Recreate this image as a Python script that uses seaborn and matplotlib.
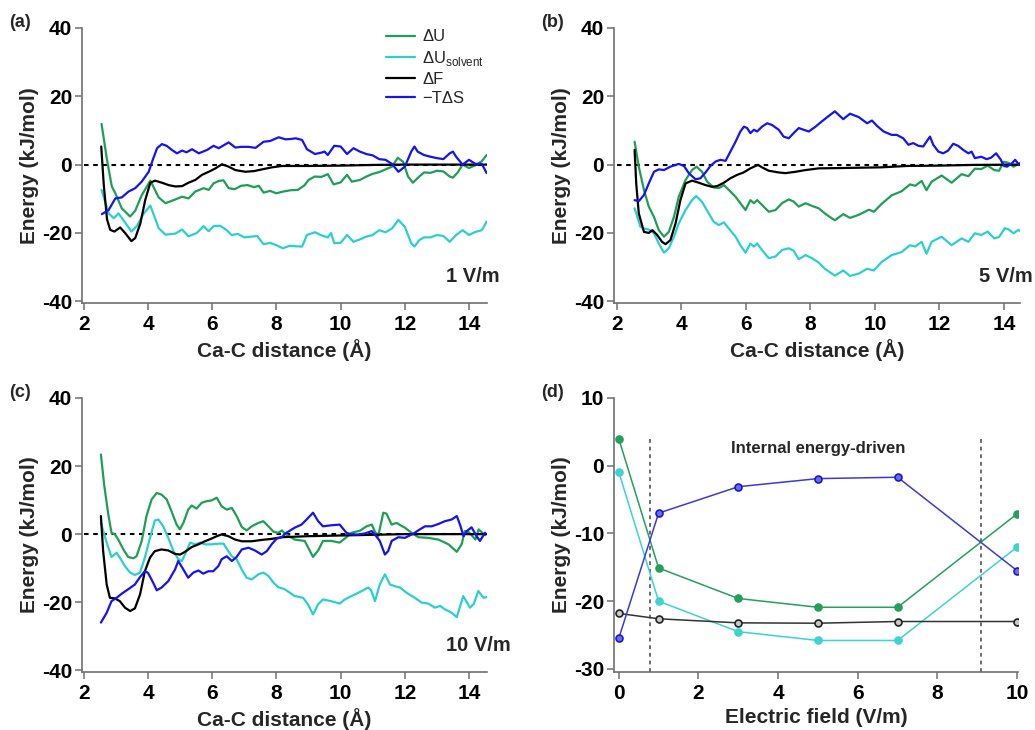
import numpy as np
import pandas as pd
import seaborn as sns
import matplotlib.pyplot as plt

sns.set_style("ticks")
plt.rcParams['font.family'] = ['Liberation Sans', 'DejaVu Sans']
plt.rcParams['mathtext.fontset'] = 'custom'
plt.rcParams['mathtext.rm'] = 'Liberation Sans'
plt.rcParams['axes.unicode_minus'] = False

GREEN = '#1f9e55'
CYAN = '#2ccfcf'
BLUE = '#1414f0'
BLACK = '#000000'
SPINE = '#707070'

# ---------------- panel (a) 1 V/m ----------------
a_du_x = [2.55, 2.72, 2.87, 2.98, 3.18, 3.44, 3.6, 3.8, 4.07, 4.33, 4.54, 4.85, 5.06, 5.26, 5.47, 5.73,
          5.89, 6.04, 6.2, 6.35, 6.51, 6.7, 6.9, 7.1, 7.3, 7.45, 7.6, 7.8, 8.0, 8.2, 8.45, 8.67, 8.88,
          9.0, 9.19, 9.4, 9.6, 9.78, 10.0, 10.2, 10.35, 10.6, 10.8, 11.0, 11.2, 11.4, 11.6, 11.78,
          11.95, 12.1, 12.25, 12.45, 12.6, 12.8, 13.0, 13.2, 13.4, 13.5, 13.65, 13.8, 14.0, 14.2,
          14.4, 14.55]
a_du = [11.9, 1.4, -6.4, -8.4, -12.8, -15.2, -13.5, -9, -4.7, -9.6, -11.3, -10.2, -9.4, -9.9, -7.9, -6.9,
        -7.4, -5.5, -4.8, -4.6, -6.9, -7.2, -6.2, -6.0, -6.6, -6.2, -8.2, -7.7, -8.4, -7.9, -7.5, -7.4, -6,
        -4.5, -3.5, -3.6, -2.8, -5.8, -5.2, -3.0, -5.0, -4.5, -3.5, -2.7, -2.2, -1.4, -0.6, 2.0,
        0.8, -3.5, -5.3, -3.5, -2.3, -2.4, -1.8, -2.0, -3.5, -3.8, -2.3, 0.0, -1.0, -0.2,
        1.0, 2.8]

a_dus_x = [2.55, 2.77, 2.93, 3.08, 3.25, 3.48, 3.65, 3.85, 4.07, 4.33, 4.54, 4.85, 5.06, 5.26, 5.52, 5.73,
           5.89, 6.04, 6.25, 6.45, 6.6, 6.8, 7.0, 7.2, 7.4, 7.6, 7.8, 8.0, 8.2, 8.4, 8.6, 8.8, 8.95,
           9.2, 9.4, 9.6, 9.7, 9.8, 10.0, 10.2, 10.4, 10.6, 10.8, 11.0, 11.2, 11.4, 11.6, 11.8, 12.0,
           12.2, 12.3, 12.45, 12.6, 12.8, 13.0, 13.2, 13.4, 13.6, 13.8, 14.0, 14.2, 14.4, 14.55]
a_dus = [-7.4, -14.3, -15.7, -14.3, -16.5, -19.6, -18, -14.5, -12, -18.6, -20.5, -20.2, -19, -21, -20, -18,
         -19.5, -18, -17.9, -19.2, -20.6, -20.3, -21.3, -21.1, -20.9, -23.3, -22.9, -23.6, -24.5, -23.8,
         -23.9, -24, -20.6, -19.8, -20.7, -21.3, -20, -23, -22.9, -20.6, -22.6, -21.9, -21.1, -20.6,
         -19.2, -19.8, -18.7, -16.2, -18.2, -23, -24, -22.1, -21.3, -21.3, -20.6, -20.9, -22.6, -20.6,
         -19.2, -20.6, -19.7, -19.2, -16.7]

a_df_x = [2.54, 2.62, 2.72, 2.82, 2.95, 3.13, 3.29, 3.48, 3.6, 3.76, 3.91, 4.07, 4.22, 4.43, 4.64, 4.85,
          5.06, 5.26, 5.47, 5.68, 5.89, 6.1, 6.3, 6.51, 6.72, 7.03, 7.3, 7.55, 7.86, 8.17, 9.0, 10.0,
          11.0, 12.0, 13.0, 14.55]
a_df = [5.3, -6, -16, -19.1, -19.6, -18.4, -20.1, -22.4, -21.5, -17.2, -10.4, -5.3, -4.7, -5.3, -6, -6.4,
        -6.3, -5.3, -4.5, -3, -2.1, -1.1, 0.1, -0.6, -1.6, -2.1, -1.9, -1.4, -0.8, -0.4, -0.4, -0.3,
        -0.1, 0, 0, 0]

a_tds_x = [2.56, 2.77, 2.98, 3.18, 3.39, 3.6, 3.8, 4.02, 4.15, 4.28, 4.43, 4.58, 4.74, 4.9, 5.06, 5.2,
           5.37, 5.58, 5.84, 6.04, 6.2, 6.51, 6.72, 6.9, 7.13, 7.35, 7.6, 7.8, 8.07, 8.28, 8.45, 8.6,
           8.8, 8.95, 9.2, 9.4, 9.5, 9.6, 9.8, 10.0, 10.2, 10.4, 10.6, 10.8, 11.0, 11.2, 11.4, 11.6,
           11.8, 12.0, 12.2, 12.3, 12.4, 12.6, 12.8, 13.0, 13.2, 13.4, 13.5, 13.6, 13.8, 14.0, 14.2,
           14.4, 14.55]
a_tds = [-14.5, -13.3, -9.9, -9.6, -7.9, -6.9, -5, -2.1, 1.5, 4.8, 6, 5.5, 4.3, 3.3, 4.1, 3.6,
         4.5, 3.3, 4.3, 5.5, 4.8, 6.5, 5, 5.2, 5.2, 4.9, 6.7, 6.9, 8, 7.4, 7.5, 7.7,
         7.2, 4.5, 3.1, 3.5, 3.8, 2.8, 5.5, 5.3, 3.1, 4.8, 3.8, 3.1, 2.7, 1.6, 1.4, 0.2,
         -2.1, -0.6, 3.8, 5.3, 3.8, 2.8, 2.3, 1.9, 1.6, 3.3, 3.8, 2.3, 0, 1.4, 0.2,
         0.2, -2.5]

# ---------------- panel (b) 5 V/m ----------------
b_du_x = [2.55, 2.68, 2.84, 2.99, 3.15, 3.3, 3.46, 3.61, 3.77, 3.92, 4.13, 4.33, 4.47, 4.64, 4.8, 5.0,
          5.16, 5.32, 5.47, 5.68, 5.83, 5.99, 6.14, 6.25, 6.35, 6.5, 6.71, 6.92, 7.12, 7.33, 7.48,
          7.64, 7.85, 8.05, 8.26, 8.45, 8.6, 8.76, 9.02, 9.23, 9.5, 9.82, 9.97, 10.21, 10.52, 10.83,
          11.09, 11.25, 11.45, 11.6, 11.76, 12.07, 12.38, 12.69, 12.9, 13.1, 13.3, 13.5, 13.7,
          13.85, 14.0, 14.15, 14.3, 14.45, 14.55]
b_du = [6.7, -0.6, -7.4, -12.3, -15.3, -19.2, -21.1, -19.7, -15.3, -9.4, -4.5, -1.6, -0.6, -2.1, -5, -6.7,
        -6.9, -6, -7.4, -9.4, -11.3, -13.3, -10.4, -11.3, -10.4, -11.8, -13.8, -13.3, -11.3, -10.2, -10.8,
        -12.3, -11.3, -12.1, -12.8, -14.3, -15.3, -16.3, -14.5, -15.6, -14.7, -13.2, -13.8, -11.5, -9.0,
        -7.8, -5.8, -6.2, -4.8, -7.5, -5, -3.2, -5.3, -2.8, -3.4, -1.2, -1.3, -0.3, -1.6,
        -1.8, 0.8, 0.5, -0.6, 0.2, -0.4]

b_dus_x = [2.55, 2.73, 2.84, 2.99, 3.15, 3.3, 3.46, 3.61, 3.77, 3.92, 4.13, 4.33, 4.46, 4.64, 4.85, 5.0,
           5.16, 5.32, 5.47, 5.68, 5.83, 5.99, 6.14, 6.25, 6.35, 6.5, 6.71, 6.92, 7.12, 7.33, 7.48,
           7.64, 7.85, 8.05, 8.26, 8.45, 8.76, 9.02, 9.23, 9.5, 9.76, 9.97, 10.21, 10.52, 10.83,
           11.09, 11.25, 11.45, 11.6, 11.76, 12.07, 12.38, 12.69, 12.9, 13.1, 13.3, 13.5, 13.7,
           13.85, 14.03, 14.15, 14.3, 14.45, 14.55]
b_dus = [-12.8, -18.2, -18.7, -19, -20.1, -23.1, -25.8, -24.5, -21.1, -17.2, -13.3, -10.4, -9.2, -10.9,
         -14.3, -16.7, -17.7, -16.9, -18.7, -21.1, -23.6, -25.8, -23.1, -24.0, -23.1, -25, -27.4, -26.9,
         -25, -24.5, -25.2, -27.7, -26.5, -27.4, -28.7, -30.5, -32.5, -31, -32.6, -31.9, -30.5, -31,
         -28.5, -26.5, -25.6, -23.6, -24, -22.6, -26.1, -22.6, -21.1, -23.6, -21.6, -22.6, -20.1,
         -20.6, -19.6, -21.6, -21.2, -18.6, -19.0, -20.1, -19.1, -19.8]

b_df_x = [2.55, 2.6, 2.68, 2.84, 2.99, 3.1, 3.25, 3.4, 3.51, 3.66, 3.82, 3.97, 4.13, 4.33, 4.54, 4.75,
          4.95, 5.11, 5.32, 5.52, 5.73, 5.93, 6.14, 6.3, 6.38, 6.5, 6.71, 7.02, 7.23, 7.54, 7.85,
          8.26, 9.0, 10.2, 11.0, 12.0, 13.0, 14.55]
b_df = [4.3, -5.5, -14.3, -19.7, -20, -19.2, -20.6, -22.6, -23.3, -22.1, -17.2, -10.4, -5.5, -4.7, -5.3,
        -6, -6.5, -6.3, -5.3, -4, -3, -2.3, -1.1, -0.4, -0.1, -0.8, -1.8, -2.3, -2.5, -2.1, -1.6,
        -1.1, -1.0, -0.8, -0.4, -0.3, -0.1, 0]

b_tds_x = [2.55, 2.68, 2.84, 2.99, 3.15, 3.3, 3.46, 3.66, 3.92, 4.08, 4.23, 4.44, 4.59, 4.75, 4.9, 5.06,
           5.21, 5.37, 5.52, 5.68, 5.83, 5.94, 6.04, 6.14, 6.25, 6.35, 6.5, 6.66, 6.81, 7.02, 7.17,
           7.33, 7.48, 7.64, 7.79, 7.95, 8.16, 8.35, 8.55, 8.76, 9.02, 9.23, 9.5, 9.76, 9.91, 10.07,
           10.27, 10.52, 10.68, 10.88, 11.04, 11.19, 11.35, 11.5, 11.6, 11.71, 11.81, 11.97, 12.12,
           12.27, 12.43, 12.58, 12.74, 12.9, 13.0, 13.1, 13.3, 13.46, 13.6, 13.76, 13.9, 14.0, 14.1,
           14.25, 14.35, 14.45, 14.55]
b_tds = [-10.4, -10.7, -8.9, -5.5, -2.1, -1.4, -1.6, -0.6, 0.2, -0.4, -2.5, -4.3, -4, -2.3, -0.4, 0.9,
         1.4, 1.1, 3.8, 6.7, 9.7, 11.1, 10.7, 9.2, 10.2, 9.7, 11.1, 12.1, 11.6, 10.2, 8.2,
         7.7, 9.2, 10.7, 10.2, 9.7, 11.1, 12.6, 14.1, 15.6, 13.3, 14.9, 13.9, 12.1, 12.9, 11.3,
         9.7, 8.7, 8.7, 7.7, 5.8, 6.3, 5.5, 5.3, 6.7, 8.2, 5.8, 3.8, 3.3,
         4.1, 6.1, 5.5, 4.3, 3.3, 3.8, 1.9, 2.3, 1.6, 2.0, 3.3, 1.5, -0.4, -0.6,
         0.4, 1.4, 0.2, 0.6]

# ---------------- panel (c) 10 V/m ----------------
c_du_x = [2.53, 2.63, 2.76, 2.86, 2.97, 3.07, 3.23, 3.38, 3.54, 3.64, 3.8, 3.95, 4.11, 4.27, 4.42, 4.58,
          4.73, 4.89, 4.99, 5.1, 5.25, 5.36, 5.51, 5.67, 5.83, 5.98, 6.14, 6.29, 6.45, 6.61, 6.76,
          6.92, 7.07, 7.23, 7.44, 7.59, 7.75, 7.91, 8.06, 8.17, 8.26, 8.57, 8.88, 9.14, 9.3, 9.45,
          9.71, 9.97, 10.13, 10.34, 10.6, 10.81, 10.97, 11.07, 11.17, 11.33, 11.43, 11.59, 11.74,
          12.0, 12.21, 12.42, 12.73, 13.05, 13.36, 13.62, 13.77, 13.87, 14.0, 14.1, 14.2, 14.3, 14.5]
c_du = [23.4, 14.6, 5.8, 0.4, -0.1, -1.6, -4.5, -6.7, -7.1, -6.5, -2.1, 5.3, 10.2, 12.1, 11.6, 10.2,
        6.7, 2.8, 1.4, 3.3, 7.2, 8.4, 7.5, 9.2, 9.7, 9.9, 10.7, 8.2, 7.2, 7.7, 5.3,
        2.1, 1.1, 2.3, 3.3, 3.8, 2.3, 0.7, 0.4, 1.1, 0.1, -1.6, -2, -6.7, -4.8, -2,
        -2, -2.5, -1.3, 0.4, 1.0, 2.3, 2.8, 0.7, -0.6, 6.3, 6, 2.8, 3.3,
        1.9, 0.4, -0.9, -1.1, -1.6, -3, -5.2, -3, 0.9, 0.5, -0.5, -1.6, 1.4, -0.3]

c_dus_x = [2.53, 2.71, 2.86, 3.02, 3.12, 3.28, 3.44, 3.59, 3.75, 3.9, 4.06, 4.21, 4.32, 4.47, 4.63, 4.79,
           4.94, 5.05, 5.15, 5.31, 5.46, 5.62, 5.77, 5.98, 6.19, 6.35, 6.5, 6.61, 6.76, 6.92, 7.07,
           7.23, 7.44, 7.59, 7.75, 7.91, 8.06, 8.26, 8.57, 8.83, 8.98, 9.14, 9.3, 9.45, 9.71, 9.97,
           10.13, 10.34, 10.6, 10.86, 10.95, 11.07, 11.22, 11.38, 11.54, 11.69, 11.85, 12.05, 12.31,
           12.52, 12.73, 12.94, 13.1, 13.25, 13.46, 13.62, 13.82, 14.03, 14.15, 14.29, 14.45, 14.55]
c_dus = [3.3, -2.5, -6.7, -5.5, -6.9, -9.4, -11.3, -12, -11.3, -6.9, -1.1, 4, 4.3, 2.3, -1.1, -5,
         -7.4, -7.9, -6, -2.5, -3, -2.5, -3, -3, -2.8, -2.8, -5, -6.5, -7.4, -10.4, -12.8,
         -13.3, -11.8, -11.3, -12.3, -14.3, -15.6, -16.2, -18.2, -18.7, -20.6, -23.6, -20.6, -19.2,
         -19.7, -20.4, -19.2, -18.2, -17.0, -15.7, -16.5, -19.7, -14.8, -11.8, -14.8, -15.3, -15.7,
         -17.2, -18.7, -20.1, -20.4, -21.6, -21.1, -22.1, -23.1, -24.4, -18.2, -21.6, -20.5, -16.7,
         -18.7, -18.5]

c_df_x = [2.53, 2.6, 2.71, 2.81, 2.97, 3.12, 3.28, 3.44, 3.59, 3.75, 3.9, 4.06, 4.21, 4.42, 4.63, 4.84,
          5.0, 5.15, 5.36, 5.57, 5.77, 5.98, 6.14, 6.29, 6.5, 6.71, 6.92, 7.23, 7.54, 7.85, 8.17,
          9.0, 10.0, 11.0, 12.0, 14.55]
c_df = [5.3, -5, -14.8, -18.7, -18.9, -19.7, -21.6, -22.6, -21.8, -17.7, -10.9, -6.9, -5, -4.5, -4.8,
        -5.8, -6, -5.2, -3.8, -3, -2.1, -1.3, -0.6, -0.1, -0.6, -1.6, -2.1, -2.1, -1.7, -1.4, -0.9,
        -0.6, -0.4, -0.2, 0, 0]

c_tds_x = [2.53, 2.71, 2.86, 3.02, 3.18, 3.38, 3.59, 3.75, 3.9, 4.0, 4.16, 4.27, 4.42, 4.63, 4.84, 4.94,
           5.1, 5.25, 5.41, 5.57, 5.72, 5.88, 6.03, 6.19, 6.29, 6.45, 6.61, 6.76, 6.92, 7.13, 7.33,
           7.54, 7.7, 7.85, 8.01, 8.17, 8.26, 8.57, 8.78, 8.94, 9.14, 9.3, 9.45, 9.71, 9.97, 10.18,
           10.34, 10.55, 10.76, 10.97, 11.1, 11.22, 11.38, 11.48, 11.59, 11.8, 12.0, 12.26, 12.47,
           12.63, 12.84, 13.05, 13.25, 13.46, 13.62, 13.72, 13.83, 13.93, 14.08, 14.24, 14.34, 14.5]
c_tds = [-26, -23.1, -19.7, -18.7, -17.5, -16.2, -14.8, -12.6, -10.9, -11.4, -14.3, -16.5, -15.7, -13.8,
         -10.4, -7.9, -10.4, -12.8, -11.3, -10.7, -11.6, -10.9, -10.9, -9.4, -7.4, -6.5, -7.9, -6.7,
         -4.5, -4, -4.8, -6, -5, -3, -1.3, -0.9, 0.1, 1.9, 2.8, 4.3, 6.3, 3.8, 2.3, 2.6, 2.8, 0.4,
         -0.1, -0.1, 0.2, 0.9, -0.5, -2, -6, -5, -2, -0.9, -1.1, 0.1, 1.4,
         2.3, 2.3, 3, 3.8, 4.3, 5.3, 2.8, -0.6, 0.9, 2, -0.6, -2, 0.4]

# ---------------- panel (d) summary ----------------
field = [0, 1, 3, 5, 7, 10]
d_du = [4.0, -15.1, -19.6, -20.9, -20.9, -7.1]
d_dus = [-0.9, -20.0, -24.5, -25.8, -25.8, -12.0]
d_df = [-21.8, -22.6, -23.2, -23.25, -23.0, -23.0]
d_tds = [-25.5, -7.0, -3.1, -1.9, -1.7, -15.5]
regime_bounds = [0.78, 9.1]

panels = [
    ('(a)', '1 V/m', [(a_du_x, a_du), (a_dus_x, a_dus), (a_df_x, a_df), (a_tds_x, a_tds)]),
    ('(b)', '5 V/m', [(b_du_x, b_du), (b_dus_x, b_dus), (b_df_x, b_df), (b_tds_x, b_tds)]),
    ('(c)', '10 V/m', [(c_du_x, c_du), (c_dus_x, c_dus), (c_df_x, c_df), (c_tds_x, c_tds)]),
]
names = ['ΔU', 'ΔU$_{\\mathregular{solvent}}$', 'ΔF', '−TΔS']
colors = [GREEN, CYAN, BLACK, BLUE]

fig = plt.figure(figsize=(10.35, 7.3), dpi=100)
rects = [[0.0792, 0.585, 0.3913, 0.3767],
         [0.5932, 0.585, 0.3923, 0.3767],
         [0.0792, 0.0795, 0.3913, 0.3753],
         [0.5932, 0.0795, 0.3903, 0.3753]]
axes = [fig.add_axes(r) for r in rects]


def style_axis(ax):
    sns.despine(ax=ax)
    for s in ['left', 'bottom']:
        ax.spines[s].set_color(SPINE)
        ax.spines[s].set_linewidth(1.2)
    ax.tick_params(direction='out', length=5, width=1.1, color=SPINE,
                   labelsize=15, labelcolor='black')
    ax.tick_params(axis='y', pad=2)
    ax.tick_params(axis='x', pad=4)
    for lab in ax.get_xticklabels() + ax.get_yticklabels():
        lab.set_fontweight('bold')


for i, (tag, field_txt, series) in enumerate(panels):
    ax = axes[i]
    ax.plot([2.0, 14.5], [0, 0], ls=(0, (2.2, 2.2)), color='black', lw=1.5, zorder=1)
    for (xs, ys), nm, c in zip(series, names, colors):
        df = pd.DataFrame({'x': xs, 'y': ys})
        sns.lineplot(data=df, x='x', y='y', color=c, lw=1.6, sort=False,
                     estimator=None, ax=ax, label=nm if i == 0 else None, legend=False)
    ax.set_xlim(1.94 if i != 1 else 1.91, 14.56 if i != 1 else 14.5)
    ax.set_ylim(-40.5, 40)
    ax.set_xticks([2, 4, 6, 8, 10, 12, 14])
    ax.set_yticks([-40, -20, 0, 20, 40])
    ax.set_xlabel('Ca-C distance (Å)', fontsize=15, fontweight='bold', labelpad=3)
    ax.set_ylabel('Energy (kJ/mol)', fontsize=15, fontweight='bold', labelpad=2)
    style_axis(ax)
    ax.text(0.898, 0.095, field_txt, transform=ax.transAxes, fontsize=14.5,
            fontweight='bold', ha='left', va='center')
    ax.text(-0.18, 1.02, tag, transform=ax.transAxes, fontsize=13,
            fontweight='bold', ha='left', va='center')

leg = axes[0].legend(loc='upper left', bbox_to_anchor=(0.75, 0.995), frameon=False,
                     fontsize=12, handlelength=1.75, handletextpad=0.45,
                     labelspacing=0.25, borderpad=0, borderaxespad=0)

# panel (d)
ax = axes[3]
for xv in regime_bounds:
    ax.plot([xv, xv], [-30.4, 4.3], ls=(0, (2.5, 2.5)), color='#444444', lw=1.1, zorder=1)
d_series = [(d_du, '#23a05a', '#23a05a', '#23a05a'),
            (d_dus, '#3cd3d3', '#3cd3d3', '#3cd3d3'),
            (d_df, '#333333', '#222222', '#c8c8c8'),
            (d_tds, '#3a3ad8', '#1a1ac0', '#6a6aff')]
for ys, lc, ec, fc in d_series:
    sns.lineplot(x=field, y=ys, color=lc, lw=1.1, marker='o', markersize=5,
                 markeredgecolor=ec, markerfacecolor=fc, markeredgewidth=1.2,
                 estimator=None, ax=ax)
ax.set_xlim(-0.12, 10.02)
ax.set_ylim(-30.45, 10)
ax.set_xticks([0, 2, 4, 6, 8, 10])
ax.set_yticks([-30, -20, -10, 0, 10])
ax.set_xlabel('Electric field (V/m)', fontsize=15, fontweight='bold', labelpad=3)
ax.set_ylabel('Energy (kJ/mol)', fontsize=15, fontweight='bold', labelpad=2)
style_axis(ax)
ax.text(5.0, 2.6, 'Internal energy-driven', fontsize=12, fontweight='bold',
        ha='center', va='center')
ax.text(-0.18, 1.02, '(d)', transform=ax.transAxes, fontsize=13,
        fontweight='bold', ha='left', va='center')

fig.savefig('out.png', dpi=100)
